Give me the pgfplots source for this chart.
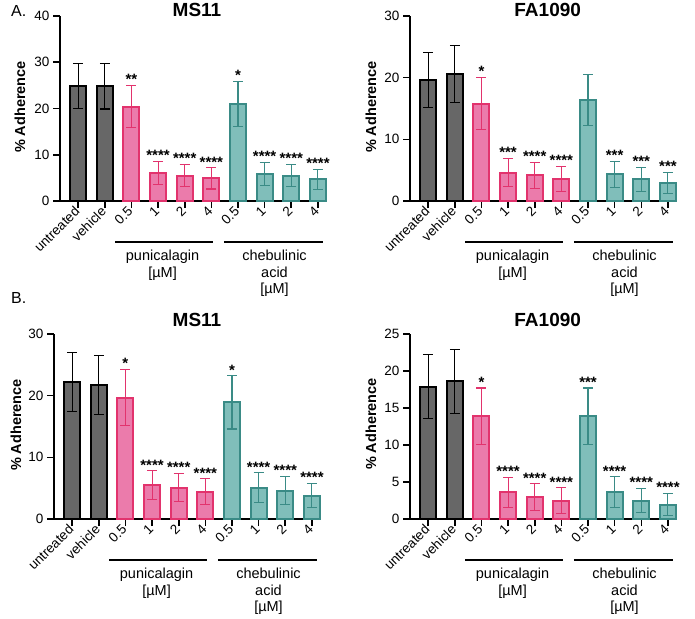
\documentclass[border=0pt]{standalone}
\usepackage{fontspec}
\setmainfont{Liberation Sans}
\usepackage{pgfplots}
\pgfplotsset{compat=1.18}

\definecolor{grayfill}{HTML}{676767}
\definecolor{pinkfill}{HTML}{EB7BAB}
\definecolor{pinkedge}{HTML}{E2336D}
\definecolor{tealfill}{HTML}{80BEBA}
\definecolor{tealedge}{HTML}{3A8B86}

\newcommand{\tickfont}{\fontsize{13.5}{15}\selectfont}
\newcommand{\grpfont}{\fontsize{14.5}{16}\selectfont}

\pgfplotsset{
  panel/.style={
    scale only axis, width=267pt, height=185pt,
    axis lines=left, axis line style={-, line width=1.6pt},
    xmin=-0.68, xmax=9.34, ymin=0,
    ybar, bar width=16pt, bar shift=0pt,
    xtick={0,...,9},
    xticklabels={untreated,vehicle,0.5,1,2,4,0.5,1,2,4},
    tick align=outside, major tick length=7pt,
    tick style={line width=1.6pt, black},
    xticklabel style={rotate=45, anchor=east, font=\tickfont, inner sep=1.5pt},
    yticklabel style={font=\tickfont},
    /pgf/number format/assume math mode=true,
    clip=false,
    anchor=south west,
  },
  grayb/.style={fill=grayfill, draw=black, line width=2pt,
    error bars/.cd, y dir=both, y explicit,
    error bar style={black, line width=1.1pt},
    error mark options={rotate=90, black, line width=1.1pt, mark size=5pt}},
  pinkb/.style={fill=pinkfill, draw=pinkedge, line width=2pt,
    error bars/.cd, y dir=both, y explicit,
    error bar style={pinkedge, line width=1.1pt},
    error mark options={rotate=90, pinkedge, line width=1.1pt, mark size=5pt}},
  tealb/.style={fill=tealfill, draw=tealedge, line width=2pt,
    error bars/.cd, y dir=both, y explicit,
    error bar style={tealedge, line width=1.1pt},
    error mark options={rotate=90, tealedge, line width=1.1pt, mark size=5pt}},
}
\tikzset{
  star/.style={font=\bfseries\fontsize{15}{16}\selectfont, anchor=south, inner sep=0.5pt},
  grp/.style={font=\grpfont, anchor=base, inner sep=0pt},
  ttl/.style={font=\bfseries\fontsize{19}{21}\selectfont, anchor=base, inner sep=0pt},
  ylab/.style={font=\bfseries\fontsize{14.5}{16}\selectfont, rotate=90, anchor=center, inner sep=0pt},
}
\newcommand{\groups}{%
  \draw[line width=1.8pt] ([yshift=-40.7pt]axis cs:1.39,0) -- ([yshift=-40.7pt]axis cs:5.07,0);
  \draw[line width=1.8pt] ([yshift=-40.7pt]axis cs:5.47,0) -- ([yshift=-40.7pt]axis cs:9.18,0);
  \node[grp] at ([yshift=-59pt]axis cs:3.17,0) {punicalagin};
  \node[grp] at ([yshift=-76pt]axis cs:3.17,0) {[µM]};
  \node[grp] at ([yshift=-59pt]axis cs:7.37,0) {chebulinic};
  \node[grp] at ([yshift=-76pt]axis cs:7.37,0) {acid};
  \node[grp] at ([yshift=-92.5pt]axis cs:7.37,0) {[µM]};
}

\begin{document}
\begin{tikzpicture}
\useasboundingbox (0,0) rectangle (695pt,-618pt);

% ---------------- A. MS11 ----------------
\begin{axis}[panel, at={(60pt,-201pt)}, ymax=40, ytick={0,10,20,30,40}]
\addplot[grayb] coordinates {(0,24.9) +- (0,4.9) (1,24.8) +- (0,4.9)};
\addplot[pinkb] coordinates {(2,20.4) +- (0,4.6) (3,6.1) +- (0,2.5) (4,5.5) +- (0,2.4) (5,4.9) +- (0,2.3)};
\addplot[tealb] coordinates {(6,21.0) +- (0,4.8) (7,5.8) +- (0,2.5) (8,5.5) +- (0,2.4) (9,4.7) +- (0,2.2)};
\node[star] at (axis cs:2,25.0) {**};
\node[star] at (axis cs:3,8.6) {****};
\node[star] at (axis cs:4,7.9) {****};
\node[star] at (axis cs:5,7.2) {****};
\node[star] at (axis cs:6,25.8) {*};
\node[star] at (axis cs:7,8.3) {****};
\node[star] at (axis cs:8,7.9) {****};
\node[star] at (axis cs:9,6.9) {****};
\groups
\end{axis}

% ---------------- A. FA1090 ----------------
\begin{axis}[panel, at={(410pt,-201pt)}, ymax=30, ytick={0,10,20,30}]
\addplot[grayb] coordinates {(0,19.6) +- (0,4.5) (1,20.6) +- (0,4.6)};
\addplot[pinkb] coordinates {(2,15.8) +- (0,4.2) (3,4.6) +- (0,2.3) (4,4.2) +- (0,2.1) (5,3.6) +- (0,2.0)};
\addplot[tealb] coordinates {(6,16.4) +- (0,4.1) (7,4.3) +- (0,2.1) (8,3.5) +- (0,2.0) (9,2.9) +- (0,1.7)};
\node[star] at (axis cs:2,20.0) {*};
\node[star] at (axis cs:3,6.9) {***};
\node[star] at (axis cs:4,6.3) {****};
\node[star] at (axis cs:5,5.6) {****};
\node[star] at (axis cs:7,6.4) {***};
\node[star] at (axis cs:8,5.5) {***};
\node[star] at (axis cs:9,4.6) {***};
\groups
\end{axis}

% ---------------- B. MS11 ----------------
\begin{axis}[panel, at={(54pt,-519pt)}, ymax=30, ytick={0,10,20,30}]
\addplot[grayb] coordinates {(0,22.2) +- (0,4.8) (1,21.7) +- (0,4.8)};
\addplot[pinkb] coordinates {(2,19.7) +- (0,4.6) (3,5.5) +- (0,2.3) (4,5.1) +- (0,2.3) (5,4.4) +- (0,2.1)};
\addplot[tealb] coordinates {(6,18.9) +- (0,4.3) (7,5.1) +- (0,2.4) (8,4.6) +- (0,2.3) (9,3.8) +- (0,2.0)};
\node[star] at (axis cs:2,24.3) {*};
\node[star] at (axis cs:3,7.8) {****};
\node[star] at (axis cs:4,7.4) {****};
\node[star] at (axis cs:5,6.5) {****};
\node[star] at (axis cs:6,23.2) {*};
\node[star] at (axis cs:7,7.5) {****};
\node[star] at (axis cs:8,6.9) {****};
\node[star] at (axis cs:9,5.8) {****};
\groups
\end{axis}

% ---------------- B. FA1090 ----------------
\begin{axis}[panel, at={(410pt,-519pt)}, ymax=25, ytick={0,5,10,15,20,25}]
\addplot[grayb] coordinates {(0,17.9) +- (0,4.3) (1,18.6) +- (0,4.3)};
\addplot[pinkb] coordinates {(2,13.9) +- (0,3.8) (3,3.6) +- (0,2.0) (4,2.95) +- (0,1.8) (5,2.5) +- (0,1.7)};
\addplot[tealb] coordinates {(6,13.9) +- (0,3.8) (7,3.6) +- (0,2.1) (8,2.5) +- (0,1.6) (9,1.95) +- (0,1.5)};
\node[star] at (axis cs:2,17.7) {*};
\node[star] at (axis cs:3,5.6) {****};
\node[star] at (axis cs:4,4.75) {****};
\node[star] at (axis cs:5,4.2) {****};
\node[star] at (axis cs:6,17.7) {***};
\node[star] at (axis cs:7,5.7) {****};
\node[star] at (axis cs:8,4.1) {****};
\node[star] at (axis cs:9,3.45) {****};
\groups
\end{axis}

% ---------------- titles and labels ----------------
\node[font=\fontsize{16}{18}\selectfont, anchor=base west, inner sep=0pt] at (11pt,-16.5pt) {A.};
\node[font=\fontsize{16}{18}\selectfont, anchor=base west, inner sep=0pt] at (11pt,-303pt) {B.};
\node[ttl] at (197pt,-16.7pt) {MS11};
\node[ttl] at (547.7pt,-16.7pt) {FA1090};
\node[ttl] at (197pt,-326pt) {MS11};
\node[ttl] at (547.7pt,-326pt) {FA1090};
\node[ylab] at (20pt,-107pt) {\% Adherence};
\node[ylab] at (371pt,-107pt) {\% Adherence};
\node[ylab] at (16pt,-425pt) {\% Adherence};
\node[ylab] at (371pt,-424pt) {\% Adherence};
\end{tikzpicture}
\end{document}
